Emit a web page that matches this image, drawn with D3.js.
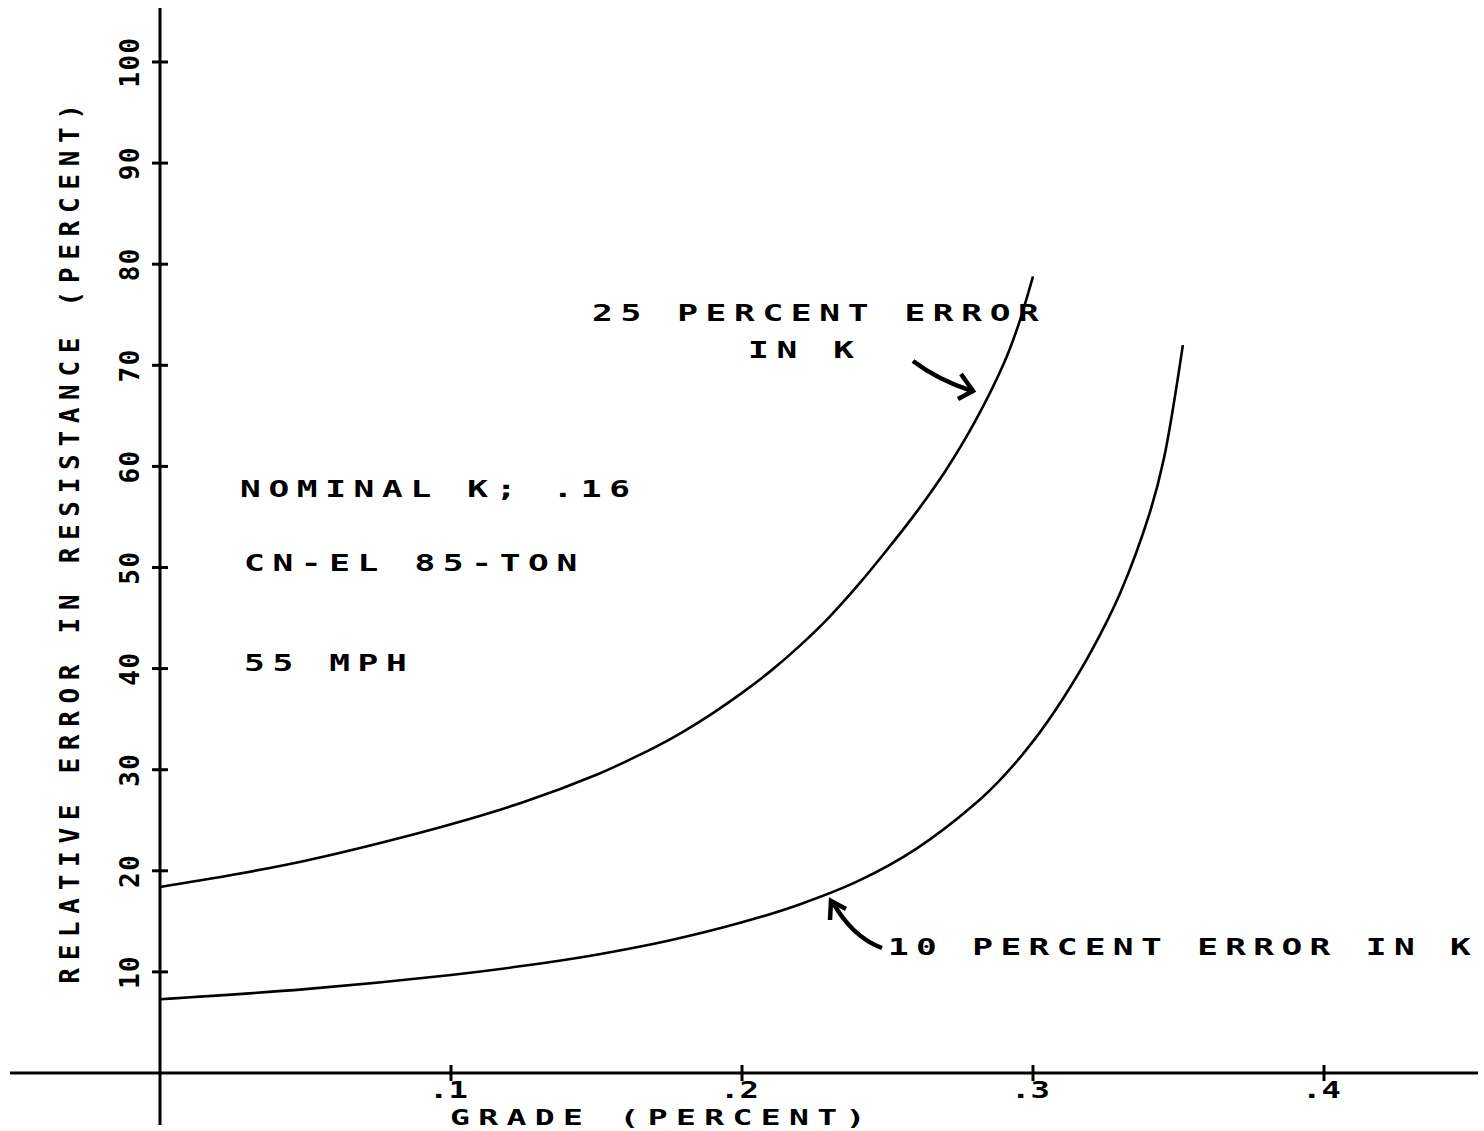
<!DOCTYPE html>
<html>
<head>
<meta charset="utf-8">
<script src="https://cdn.jsdelivr.net/npm/d3@7"></script>
<style>
  body { margin: 0; background: #fff; }
  text { font-family: "DejaVu Sans Mono", monospace; font-weight: bold; fill: #000; }
</style>
</head>
<body>
<svg id="chart" width="1484" height="1131"></svg>
<script>
const svg = d3.select("#chart");

// data
const grade25 = [0, 0.025, 0.05, 0.075, 0.1, 0.125, 0.15, 0.16, 0.17, 0.18, 0.19, 0.2, 0.21, 0.22, 0.23, 0.24, 0.25, 0.26, 0.27, 0.28, 0.29, 0.295, 0.3];
const err25 = [18.4, 19.6, 21, 22.7, 24.6, 26.8, 29.5, 30.8, 32.2, 33.8, 35.6, 37.6, 39.8, 42.3, 45.1, 48.3, 51.8, 55.5, 59.6, 64.4, 70.2, 74.0, 78.8];
const grade10 = [0, 0.05, 0.1, 0.125, 0.15, 0.175, 0.2, 0.22, 0.24, 0.26, 0.28, 0.29, 0.3, 0.31, 0.32, 0.33, 0.34, 0.345, 0.3515];
const err10 = [7.3, 8.3, 9.7, 10.6, 11.7, 13.1, 14.9, 16.7, 19.0, 22.2, 26.6, 29.4, 32.8, 36.9, 41.7, 47.5, 55.3, 60.8, 72];
const xTicks = [0.1, 0.2, 0.3, 0.4];
const xTickLabels = [".1", ".2", ".3", ".4"];
const yTicks = [10, 20, 30, 40, 50, 60, 70, 80, 90, 100];

const x = d3.scaleLinear().domain([0, 0.4]).range([160, 1324]);
const y = d3.scaleLinear().domain([0, 100]).range([1073, 62]);

// axes (plotter style: long lines with cross ticks)
svg.append("line")
  .attr("x1", x(0)).attr("x2", x(0))
  .attr("y1", 8).attr("y2", 1125)
  .attr("stroke", "#000").attr("stroke-width", 3);
svg.append("line")
  .attr("x1", 10).attr("x2", 1478)
  .attr("y1", y(0)).attr("y2", y(0))
  .attr("stroke", "#000").attr("stroke-width", 3);

svg.selectAll(".ytick")
  .data(yTicks)
  .enter()
  .append("line")
  .attr("x1", x(0) - 8).attr("x2", x(0) + 8)
  .attr("y1", d => y(d)).attr("y2", d => y(d))
  .attr("stroke", "#000").attr("stroke-width", 3);

svg.selectAll(".xtick")
  .data(xTicks)
  .enter()
  .append("line")
  .attr("x1", d => x(d)).attr("x2", d => x(d))
  .attr("y1", y(0) - 8).attr("y2", y(0) + 8)
  .attr("stroke", "#000").attr("stroke-width", 3);

// y tick labels, rotated
svg.selectAll(".ylab")
  .data(yTicks)
  .enter()
  .append("text")
  .attr("transform", d => `translate(139,${y(d)}) rotate(-90)`)
  .attr("text-anchor", "middle")
  .attr("font-size", 26)
  .attr("letter-spacing", 1.5)
  .text(d => d);

// wide plotter-like lettering
function label(tx, ty, s, size, sx, ls) {
  return svg.append("text")
    .attr("transform", `translate(${tx},${ty}) scale(${sx},1)`)
    .attr("font-size", size)
    .attr("letter-spacing", ls)
    .text(s);
}

// x tick labels
xTicks.forEach((d, i) => label(x(d) - 22, 1098, xTickLabels[i], 23, 1.4, 0));

// axis titles
svg.append("text")
  .attr("transform", "translate(79,540) rotate(-90)")
  .attr("text-anchor", "middle")
  .attr("font-size", 26)
  .attr("letter-spacing", 7.7)
  .text("RELATIVE ERROR IN RESISTANCE  (PERCENT)");

label(450, 1125, "GRADE (PERCENT)", 22, 1.5, 5.6);

// curves
const line = d3.line()
  .x(d => x(d[0]))
  .y(d => y(d[1]))
  .curve(d3.curveCatmullRom.alpha(0.5));

svg.append("path")
  .datum(d3.zip(grade25, err25))
  .attr("d", line)
  .attr("fill", "none")
  .attr("stroke", "#000")
  .attr("stroke-width", 2.6);

svg.append("path")
  .datum(d3.zip(grade10, err10))
  .attr("d", line)
  .attr("fill", "none")
  .attr("stroke", "#000")
  .attr("stroke-width", 2.6);

// annotations
label(592, 321, "25 PERCENT ERROR", 23, 1.5, 5.1);
label(748, 358, "IN K", 23, 1.5, 5.1);
label(240, 497, "NOMINAL K; .16", 23, 1.5, 5.1);
label(244, 571, "CN-EL 85-TON", 23, 1.5, 5.1);
label(244, 671, "55 MPH", 23, 1.5, 5.1);
label(888, 955, "10 PERCENT ERROR IN K", 23, 1.5, 4.9);

// arrows
svg.append("path")
  .attr("d", "M913,361 Q938,380 972,391")
  .attr("fill", "none").attr("stroke", "#000").attr("stroke-width", 4.5);
svg.append("path")
  .attr("d", "M958,399 L973,391 L961,374")
  .attr("fill", "none").attr("stroke", "#000").attr("stroke-width", 4.5);

svg.append("path")
  .attr("d", "M882,948 Q852,937 832,901")
  .attr("fill", "none").attr("stroke", "#000").attr("stroke-width", 4.5);
svg.append("path")
  .attr("d", "M830,920 L831,901 L846,909")
  .attr("fill", "none").attr("stroke", "#000").attr("stroke-width", 4.5);
</script>
</body>
</html>
